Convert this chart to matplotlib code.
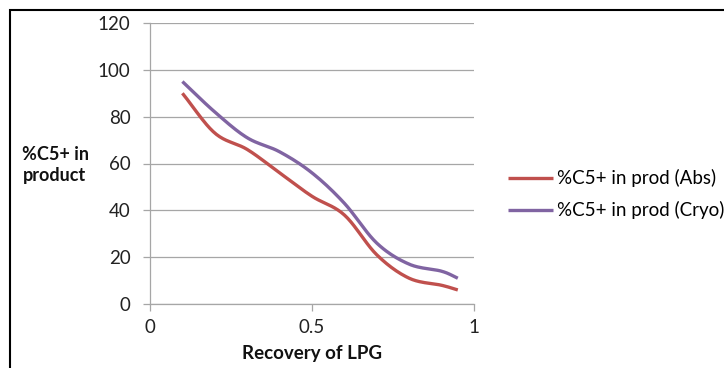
import numpy as np
import matplotlib
matplotlib.use("Agg")
import matplotlib.pyplot as plt
from matplotlib.patches import Rectangle

recovery = [0.1, 0.2, 0.3, 0.4, 0.5, 0.6, 0.7, 0.8, 0.9, 0.95]
c5_abs = [90, 73, 66, 56, 46, 38, 21, 11, 8, 6]
c5_cryo = [95, 82, 71, 65, 56, 43, 26, 17, 14, 11]
series_names = ["%C5+ in prod (Abs)", "%C5+ in prod (Cryo)"]
x_ticks = [0, 0.5, 1]
y_ticks = [0, 20, 40, 60, 80, 100, 120]


def smooth(x, y, n=20):
    # Catmull-Rom style smoothing like Excel's "smoothed line"
    x = np.asarray(x, float)
    y = np.asarray(y, float)
    px = np.concatenate([[2 * x[0] - x[1]], x, [2 * x[-1] - x[-2]]])
    py = np.concatenate([[2 * y[0] - y[1]], y, [2 * y[-1] - y[-2]]])
    xs, ys = [], []
    t = np.linspace(0, 1, n, endpoint=False)
    for i in range(1, len(px) - 2):
        p0x, p1x, p2x, p3x = px[i - 1:i + 3]
        p0y, p1y, p2y, p3y = py[i - 1:i + 3]
        for (p0, p1, p2, p3, out) in ((p0x, p1x, p2x, p3x, xs), (p0y, p1y, p2y, p3y, ys)):
            out.extend(0.5 * ((2 * p1) + (-p0 + p2) * t + (2 * p0 - 5 * p1 + 4 * p2 - p3) * t ** 2
                              + (-p0 + 3 * p1 - 3 * p2 + p3) * t ** 3))
    xs.append(x[-1])
    ys.append(y[-1])
    return np.array(xs), np.array(ys)


plt.rcParams['font.family'] = ['Lato', 'DejaVu Sans']
W, H = 724, 368
fig = plt.figure(figsize=(W / 100, H / 100), dpi=100)
ax = fig.add_axes([150 / W, 1 - 304 / H, (474 - 150) / W, (304 - 23) / H])

red = "#C0504D"
purple = "#8064A2"
for yv, col, name in ((c5_abs, red, series_names[0]), (c5_cryo, purple, series_names[1])):
    sx, sy = smooth(recovery, yv)
    ax.plot(sx, sy, color=col, lw=2.4, label=name, solid_capstyle='butt')

ax.set_xlim(0, 1)
ax.set_ylim(0, 120)
ax.set_xticks(x_ticks)
ax.set_xticklabels(["0", "0.5", "1"])
ax.set_yticks(y_ticks)
ax.grid(axis='y', color='#A6A6A6', lw=0.9)
ax.set_axisbelow(True)
for s in ('top', 'right'):
    ax.spines[s].set_visible(False)
for s in ('left', 'bottom'):
    ax.spines[s].set_color('#A6A6A6')
    ax.spines[s].set_linewidth(0.9)
ax.tick_params(axis='both', colors='#A6A6A6', labelcolor='#222222', labelsize=13.5,
               length=5, width=0.9)
ax.tick_params(axis='x', pad=6)
ax.tick_params(axis='y', pad=9)

fig.text(55 / W, 1 - 165 / H, "%C5+ in\nproduct", ha='center', va='center',
         fontsize=13, fontweight='bold', color='#111111', linespacing=1.35)
fig.text(312 / W, 1 - 353 / H, "Recovery of LPG", ha='center', va='center',
         fontsize=13.5, fontweight='bold', color='#111111')

fig.legend(loc='upper left', bbox_to_anchor=(508 / W, 1 - 169 / H), frameon=False,
           fontsize=13.5, handlelength=2.4, handletextpad=0.2, labelspacing=0.75,
           borderaxespad=0, borderpad=0)

fig.patches.append(Rectangle((10 / W, -0.1), 1.2, 1.1 - 10 / H, transform=fig.transFigure,
                             fill=False, edgecolor='black', lw=1.5))

fig.savefig("out.png", dpi=100)
